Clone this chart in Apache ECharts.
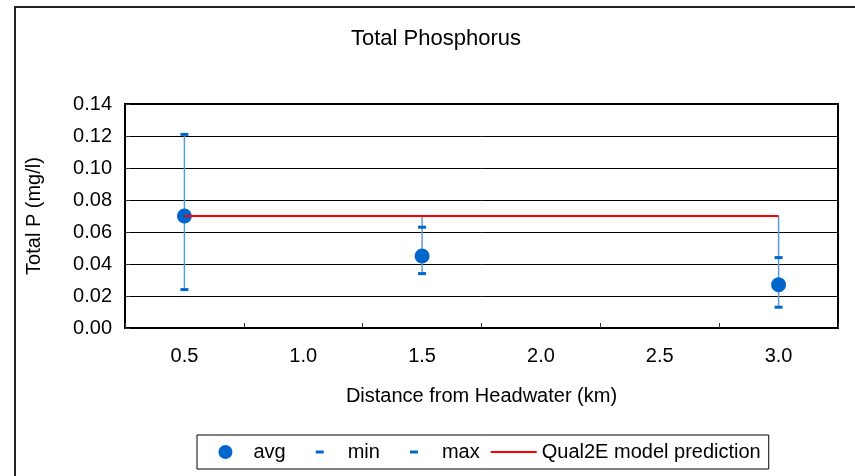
<!DOCTYPE html>
<html><head><meta charset="utf-8">
<script src="https://cdn.jsdelivr.net/npm/echarts@6/dist/echarts.min.js"></script>
<style>html,body{margin:0;padding:0;background:#fff}#c{width:855px;height:476px}</style>
</head><body><div id="c"></div>
<script>
const categories = ['0.5', '1.0', '1.5', '2.0', '2.5', '3.0'];
const avgValues = [0.070, null, 0.045, null, null, 0.027];
const minValues = [0.024, null, 0.034, null, null, 0.013];
const maxValues = [0.121, null, 0.063, null, null, 0.044];
const predictionValues = [0.07, 0.07, 0.07, 0.07, 0.07, 0.07];
const yMin = 0, yMax = 0.14, yStep = 0.02;

const FONT = '"Liberation Sans", Arial, sans-serif';
const errData = [];
categories.forEach((c, i) => {
  if (minValues[i] != null) {
    errData.push([i, minValues[i], Math.max(maxValues[i], predictionValues[i])]);
  }
});
const dashIcon = 'path://M0,0M46,14M19,5.5h8v3h-8z';
const dotIcon = 'path://M0,0M46,14M15.5,7a7.5,7.5 0 1,0 15,0a7.5,7.5 0 1,0 -15,0z';
const lineIcon = 'path://M0,0M46,14M0,6h46v2h-46z';

const chart = echarts.init(document.getElementById('c'), null, {renderer: 'canvas'});
chart.setOption({
  animation: false,
  backgroundColor: '#fff',
  textStyle: {fontFamily: FONT},
  title: {
    text: 'Total Phosphorus', left: 346, top: 23,
    textStyle: {fontFamily: FONT, fontSize: 22, fontWeight: 'normal', color: '#000'}
  },
  graphic: [{
    type: 'rect', shape: {x: 15, y: 7, width: 1000, height: 1000},
    style: {fill: 'none', stroke: '#222', lineWidth: 2}, silent: true
  }],
  legend: {
    left: 197, top: 435, padding: [7, 8, 7, 7],
    borderColor: '#000', borderWidth: 1,
    itemWidth: 46, itemHeight: 14, itemGap: 11,
    textStyle: {fontFamily: FONT, fontSize: 20, color: '#000'},
    data: [
      {name: 'avg', icon: dotIcon},
      {name: 'min', icon: dashIcon},
      {name: 'max', icon: dashIcon},
      {name: 'Qual2E model prediction', icon: lineIcon, itemStyle: {color: '#ff0000'}}
    ]
  },
  grid: {
    left: 125, top: 104, width: 713, height: 224,
    show: true, borderColor: '#000', borderWidth: 2, containLabel: false
  },
  xAxis: {
    type: 'category', data: categories,
    name: 'Distance from Headwater (km)', nameLocation: 'middle', nameGap: 58,
    nameTextStyle: {fontFamily: FONT, fontSize: 20, color: '#000'},
    axisLine: {lineStyle: {color: '#000', width: 2}},
    axisTick: {show: true, inside: true, length: 5, lineStyle: {color: '#333'}},
    axisLabel: {fontFamily: FONT, fontSize: 20, color: '#000', margin: 18}
  },
  yAxis: {
    type: 'value', min: yMin, max: yMax, interval: yStep,
    name: 'Total P (mg/l)', nameLocation: 'middle', nameGap: 81,
    nameTextStyle: {fontFamily: FONT, fontSize: 20, color: '#000'},
    axisLine: {show: true, lineStyle: {color: '#000', width: 2}},
    axisTick: {show: true, inside: true, length: 5, lineStyle: {color: '#333'}},
    axisLabel: {fontFamily: FONT, fontSize: 20, color: '#000', margin: 13,
      formatter: v => v.toFixed(2)},
    splitLine: {show: true, lineStyle: {color: '#000', width: 1}}
  },
  series: [
    {
      type: 'custom', name: 'errbar', data: errData,
      renderItem: (params, api) => {
        const x = api.value(0);
        const p1 = api.coord([x, api.value(1)]);
        const p2 = api.coord([x, api.value(2)]);
        return {type: 'line', shape: {x1: p1[0], y1: p1[1], x2: p2[0], y2: p2[1]},
          style: {stroke: '#5b9bd5', lineWidth: 1.5}};
      },
      encode: {x: 0, y: [1, 2]}, silent: true
    },
    {
      type: 'line', name: 'Qual2E model prediction', data: predictionValues,
      symbol: 'none', showSymbol: false,
      lineStyle: {color: '#ff0000', width: 2}, itemStyle: {color: '#ff0000'}
    },
    {
      type: 'scatter', name: 'min', data: minValues,
      symbol: 'rect', symbolSize: [8, 3], itemStyle: {color: '#0066cc', opacity: 1}
    },
    {
      type: 'scatter', name: 'max', data: maxValues,
      symbol: 'rect', symbolSize: [8, 3], itemStyle: {color: '#0066cc', opacity: 1}
    },
    {
      type: 'scatter', name: 'avg', data: avgValues,
      symbol: 'circle', symbolSize: 15, itemStyle: {color: '#0066cc', opacity: 1}
    }
  ]
});
</script>
</body></html>
